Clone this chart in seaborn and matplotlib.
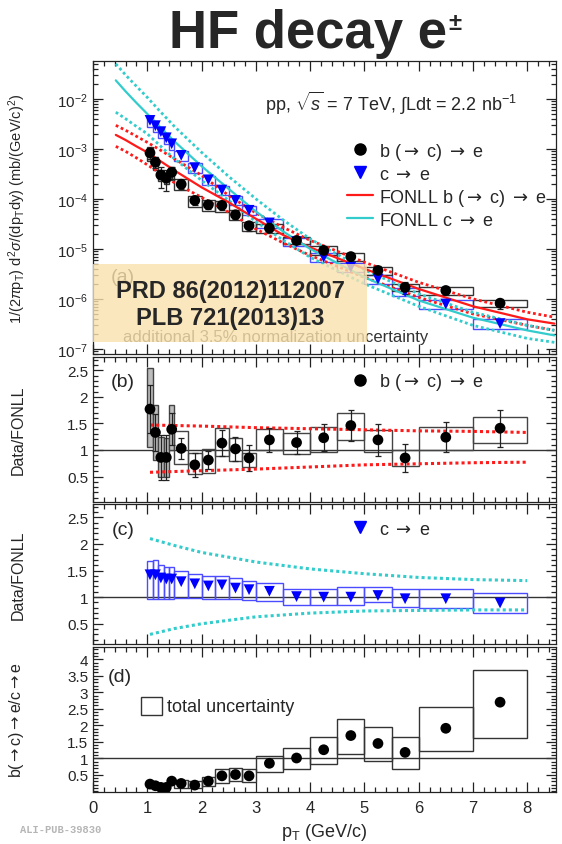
import numpy as np
import pandas as pd
import matplotlib
matplotlib.use("Agg")
import matplotlib.pyplot as plt
from matplotlib.patches import Rectangle
from matplotlib.lines import Line2D
from matplotlib.ticker import MultipleLocator, LogLocator, NullFormatter, FuncFormatter
import seaborn as sns

# ---------------- data ----------------
pt_lo = [1.0, 1.1, 1.2, 1.3, 1.4, 1.5, 1.75, 2.0, 2.25, 2.5, 2.75, 3.0, 3.5, 4.0, 4.5, 5.0, 5.5, 6.0, 7.0]
pt_hi = [1.1, 1.2, 1.3, 1.4, 1.5, 1.75, 2.0, 2.25, 2.5, 2.75, 3.0, 3.5, 4.0, 4.5, 5.0, 5.5, 6.0, 7.0, 8.0]
pt_c = [1.05, 1.15, 1.25, 1.35, 1.45, 1.625, 1.875, 2.125, 2.375, 2.625, 2.875,
        3.25, 3.75, 4.25, 4.75, 5.25, 5.75, 6.5, 7.5]

# panel (a): cross sections (mb/(GeV/c)^2)
b_xsec = [8.3e-4, 5.4e-4, 3.0e-4, 2.6e-4, 3.4e-4, 1.96e-4, 9.3e-5, 7.6e-5, 7.4e-5, 4.8e-5,
          2.9e-5, 2.6e-5, 1.47e-5, 9.3e-6, 7.0e-6, 3.7e-6, 1.7e-6, 1.47e-6, 8.2e-7]
b_stat_rel = [0.25, 0.25, 0.45, 0.45, 0.25, 0.18, 0.2, 0.18, 0.18, 0.18, 0.2, 0.15, 0.15,
              0.17, 0.18, 0.2, 0.25, 0.2, 0.22]
b_sys_rel = [0.3, 0.3, 0.25, 0.25, 0.3, 0.25, 0.25, 0.25, 0.25, 0.22, 0.2, 0.22, 0.15,
             0.2, 0.2, 0.18, 0.17, 0.18, 0.18]
c_xsec = [3.7e-3, 2.9e-3, 2.2e-3, 1.66e-3, 1.26e-3, 7.4e-4, 4.2e-4, 2.4e-4, 1.5e-4, 9.3e-5,
          5.9e-5, 3.3e-5, 1.4e-5, 6.8e-6, 4.3e-6, 2.5e-6, 1.4e-6, 7.9e-7, 3.2e-7]
c_sys_rel = [0.25, 0.25, 0.25, 0.25, 0.25, 0.22, 0.22, 0.22, 0.22, 0.2, 0.2, 0.2, 0.2,
             0.2, 0.2, 0.2, 0.2, 0.2, 0.22]

# FONLL curves, panel (a)
fonll_x = [0.42, 0.6, 0.8, 1.0, 1.25, 1.5, 2.0, 2.5, 3.0, 3.5, 4.0, 5.0, 6.0, 7.0, 8.0, 8.5]
fonll_b = [1.9e-3, 1.5e-3, 1.12e-3, 8.5e-4, 5.6e-4, 3.7e-4, 1.7e-4, 8.5e-5, 4.0e-5, 1.9e-5,
           1.07e-5, 4.0e-6, 1.58e-6, 7.1e-7, 3.9e-7, 3.2e-7]
fonll_b_up = [2.95e-3, 2.35e-3, 1.78e-3, 1.35e-3, 9.3e-4, 6.3e-4, 2.95e-4, 1.17e-4, 5.2e-5,
              2.7e-5, 1.48e-5, 5.4e-6, 2.14e-6, 1.0e-6, 5.4e-7, 4.3e-7]
fonll_b_lo = [1.12e-3, 8.9e-4, 6.6e-4, 4.8e-4, 3.2e-4, 2.1e-4, 1.07e-4, 5.4e-5, 2.5e-5,
              1.32e-5, 7.4e-6, 2.7e-6, 1.07e-6, 5.0e-7, 2.95e-7, 2.35e-7]
fonll_c = [2.34e-2, 1.41e-2, 8.3e-3, 5.0e-3, 2.63e-3, 1.41e-3, 4.5e-4, 1.58e-4, 5.6e-5,
           2.24e-5, 1.0e-5, 2.7e-6, 9.3e-7, 4.2e-7, 2.34e-7, 1.86e-7]
fonll_c_up = [5.0e-2, 3.0e-2, 1.78e-2, 1.07e-2, 5.4e-3, 2.8e-3, 8.5e-4, 2.8e-4, 1.0e-4,
              3.8e-5, 1.58e-5, 3.8e-6, 1.26e-6, 5.4e-7, 2.95e-7, 2.34e-7]
fonll_c_lo = [5.4e-3, 4.0e-3, 2.8e-3, 2.0e-3, 1.12e-3, 6.3e-4, 2.34e-4, 9.3e-5, 3.5e-5,
              1.5e-5, 6.8e-6, 2.0e-6, 7.1e-7, 2.95e-7, 1.62e-7, 1.35e-7]

# panel (b): b(->c)->e / FONLL
b_ratio = [1.77, 1.33, 0.86, 0.86, 1.39, 1.03, 0.72, 0.81, 1.13, 1.02, 0.85, 1.19, 1.14,
           1.23, 1.46, 1.19, 0.85, 1.24, 1.41]
b_ratio_stat = [0.45, 0.35, 0.43, 0.42, 0.3, 0.2, 0.22, 0.17, 0.24, 0.23, 0.25, 0.22, 0.22,
                0.25, 0.29, 0.3, 0.27, 0.28, 0.35]
b_box_lo = [1.05, 0.81, 0.5, 0.5, 1.0, 0.74, 0.54, 0.57, 0.88, 0.79, 0.68, 1.0, 0.93, 0.97,
            1.19, 0.96, 0.69, 1.0, 1.14]
b_box_hi = [2.54, 1.85, 1.25, 1.22, 1.85, 1.35, 0.94, 1.02, 1.41, 1.22, 0.94, 1.39, 1.32,
            1.43, 1.69, 1.38, 1.0, 1.44, 1.63]
band_b_x = [1.05, 2.0, 3.0, 4.0, 5.0, 6.0, 7.0, 8.0]
band_b_up = [1.47, 1.45, 1.42, 1.40, 1.38, 1.36, 1.35, 1.33]
band_b_lo = [0.58, 0.61, 0.64, 0.68, 0.72, 0.74, 0.76, 0.77]

# panel (c): c->e / FONLL
c_ratio = [1.42, 1.42, 1.36, 1.34, 1.34, 1.29, 1.25, 1.21, 1.23, 1.17, 1.14, 1.11, 1.01,
           1.0, 1.0, 1.03, 0.97, 0.97, 0.89]
c_box_lo = [0.97, 0.97, 0.97, 0.97, 0.97, 0.98, 0.98, 0.97, 0.97, 0.97, 0.94, 0.92, 0.86,
            0.86, 0.86, 0.9, 0.81, 0.79, 0.7]
c_box_hi = [1.67, 1.69, 1.6, 1.57, 1.57, 1.5, 1.44, 1.4, 1.4, 1.36, 1.31, 1.27, 1.16, 1.16,
            1.19, 1.19, 1.15, 1.15, 1.07]
band_c_x = [1.05, 1.5, 2.0, 3.0, 4.0, 5.0, 6.0, 7.0, 8.0]
band_c_up = [2.1, 1.97, 1.84, 1.66, 1.53, 1.44, 1.37, 1.33, 1.31]
band_c_lo = [0.3, 0.41, 0.5, 0.63, 0.7, 0.74, 0.75, 0.76, 0.76]

# panel (d): b(->c)->e / c->e
d_ratio = [0.22, 0.17, 0.12, 0.12, 0.31, 0.24, 0.19, 0.31, 0.47, 0.51, 0.47, 0.85, 1.01,
           1.26, 1.69, 1.45, 1.18, 1.91, 2.7]
d_box_lo = [0.17, 0.12, 0.07, 0.07, 0.25, 0.09, 0.09, 0.15, 0.26, 0.3, 0.27, 0.58, 0.68,
            0.83, 1.13, 0.93, 0.68, 1.21, 1.62]
d_box_hi = [0.27, 0.22, 0.17, 0.17, 0.37, 0.34, 0.3, 0.45, 0.68, 0.7, 0.68, 1.08, 1.31,
            1.64, 2.19, 1.96, 1.66, 2.55, 3.66]

# ---------------- style ----------------
sns.set_style("ticks")
plt.rcParams['font.family'] = ['Liberation Sans', 'DejaVu Sans']
plt.rcParams['mathtext.fontset'] = 'custom'
plt.rcParams['mathtext.rm'] = 'Liberation Sans'
plt.rcParams['mathtext.it'] = 'Liberation Sans:italic'
plt.rcParams['mathtext.bf'] = 'Liberation Sans:bold'
plt.rcParams['mathtext.sf'] = 'DejaVu Sans'

ARW = r"$\mathsf{\rightarrow}$"
RED = '#FF1A1A'
CYAN = '#33CCCC'
BLUE = '#0000FF'
BOXBLUE = '#4B4BFF'
DOT = (0, (1.0, 1.0))
fmt_g = FuncFormatter(lambda v, p: f"{v:g}")

fig = plt.figure(figsize=(5.62, 8.45), dpi=100)
L, W = 0.1655, 0.8238
ax_a = fig.add_axes([L, 0.5799, W, 0.3467])
ax_b = fig.add_axes([L, 0.4047, W, 0.1716])
ax_c = fig.add_axes([L, 0.2367, W, 0.1657])
ax_d = fig.add_axes([L, 0.0615, W, 0.1716])


def style_axis(ax):
    ax.set_xlim(0, 8.53)
    ax.xaxis.set_major_locator(MultipleLocator(1))
    ax.xaxis.set_minor_locator(MultipleLocator(0.2))
    ax.tick_params(which='both', direction='in', top=True, right=True, width=0.9,
                   color='#222222')
    ax.tick_params(which='major', length=7, labelsize=11)
    ax.tick_params(which='minor', length=3.5)
    for s in ax.spines.values():
        s.set_linewidth(0.9)
        s.set_color('#222222')


def add_boxes(ax, lo, hi, ec, fc='none', lw=1.0, z=2, n_fill=0, fill_c='#BDBDBD'):
    for i, (x0, x1, y0, y1) in enumerate(zip(pt_lo, pt_hi, lo, hi)):
        face = fill_c if i < n_fill else fc
        ax.add_patch(Rectangle((x0, y0), x1 - x0, y1 - y0, facecolor=face,
                               edgecolor=ec, lw=lw, zorder=z))


def ratio_yaxis(ax):
    ax.yaxis.set_major_locator(MultipleLocator(0.5))
    ax.yaxis.set_minor_locator(MultipleLocator(0.1))
    ax.yaxis.set_major_formatter(fmt_g)
    ax.tick_params(axis='y', labelsize=11)


# ---------------- panel (a) ----------------
ax = ax_a
ax.set_yscale('log')
style_axis(ax)
ax.set_ylim(7.9e-8, 5.7e-2)

b_lo = [v * (1 - s) for v, s in zip(b_xsec, b_sys_rel)]
b_hi = [v * (1 + s) for v, s in zip(b_xsec, b_sys_rel)]
c_lo = [v * (1 - s) for v, s in zip(c_xsec, c_sys_rel)]
c_hi = [v * (1 + s) for v, s in zip(c_xsec, c_sys_rel)]
add_boxes(ax, c_lo, c_hi, BOXBLUE, z=2)
add_boxes(ax, b_lo, b_hi, '#333333', z=2, n_fill=5)

for ys, col in [(fonll_b_up, RED), (fonll_b_lo, RED), (fonll_c_up, CYAN), (fonll_c_lo, CYAN)]:
    sns.lineplot(x=fonll_x, y=ys, ax=ax, color=col, lw=2.0, linestyle=DOT,
                 estimator=None, sort=False, legend=False, zorder=3)
sns.lineplot(x=fonll_x, y=fonll_b, ax=ax, color=RED, lw=1.6, estimator=None,
             sort=False, legend=False, zorder=3)
sns.lineplot(x=fonll_x, y=fonll_c, ax=ax, color=CYAN, lw=1.6, estimator=None,
             sort=False, legend=False, zorder=3)

b_err = [v * s for v, s in zip(b_xsec, b_stat_rel)]
ax.errorbar(pt_c, b_xsec, yerr=b_err, fmt='none', ecolor='#222222', elinewidth=0.9,
            capsize=2, capthick=0.9, zorder=4)
sns.scatterplot(x=pt_c, y=c_xsec, ax=ax, marker='v', color=BLUE, s=60,
                edgecolor='none', legend=False, zorder=5)
sns.scatterplot(x=pt_c, y=b_xsec, ax=ax, marker='o', color='black', s=60,
                edgecolor='none', legend=False, zorder=6)

ax.yaxis.set_major_locator(LogLocator(base=10, numticks=20))
ax.yaxis.set_minor_locator(LogLocator(base=10, subs=np.arange(2, 10), numticks=100))
ax.yaxis.set_minor_formatter(NullFormatter())
ax.tick_params(axis='x', labelbottom=False)
ax.tick_params(axis='y', labelsize=11)
ax.set_xlabel('')
ax.set_ylabel(r"1/(2$\pi$p$_{\rm T}$) d$^{2}\sigma$/(dp$_{\rm T}$dy) (mb/(GeV/c)$^{2}$)",
              fontsize=10.5)
ax.yaxis.set_label_coords(-0.14, 0.5)

ax.text(0.371, 0.86, r"pp, $\sqrt{s}$ = 7 TeV, $\int$Ldt = 2.2 nb$^{-1}$",
        transform=ax.transAxes, fontsize=13, ha='left', va='center')

handles = [Line2D([], [], marker='o', color='black', ls='none', ms=8),
           Line2D([], [], marker='v', color=BLUE, ls='none', ms=8),
           Line2D([], [], color=RED, lw=1.6),
           Line2D([], [], color=CYAN, lw=1.6)]
labels = [f"b ({ARW} c) {ARW} e", f"c {ARW} e", f"FONLL b ({ARW} c) {ARW} e",
          f"FONLL c {ARW} e"]
ax.legend(handles, labels, loc='upper left', bbox_to_anchor=(0.5486, 0.728),
          frameon=False, fontsize=13, handlelength=1.45, handletextpad=0.3,
          labelspacing=0.22, borderpad=0, borderaxespad=0)

ax.text(0.065, 0.266, "(a)", transform=ax.transAxes, fontsize=14, ha='center',
        va='center', zorder=7)
ax.text(0.065, 0.058, "additional 3.5% normalization uncertainty", transform=ax.transAxes,
        fontsize=12, ha='left', va='center', color='#333333', zorder=7)
ax.add_patch(Rectangle((0.0, 0.041), 0.592, 0.266, transform=ax.transAxes,
                       facecolor='#FBE2AE', edgecolor='none', alpha=0.8, zorder=8,
                       clip_on=False))
ax.text(0.296, 0.218, "PRD 86(2012)112007", transform=ax.transAxes, fontsize=17,
        fontweight='bold', ha='center', va='center', zorder=9)
ax.text(0.296, 0.123, "PLB 721(2013)13", transform=ax.transAxes, fontsize=17,
        fontweight='bold', ha='center', va='center', zorder=9)

# ---------------- panel (b) ----------------
ax = ax_b
style_axis(ax)
ax.set_ylim(0.02, 2.75)
ax.axhline(1, color='#333333', lw=1.0, zorder=1)
add_boxes(ax, b_box_lo, b_box_hi, '#444444', z=2, n_fill=5)
for ys in (band_b_up, band_b_lo):
    sns.lineplot(x=band_b_x, y=ys, ax=ax, color=RED, lw=2.2, linestyle=DOT,
                 estimator=None, sort=False, legend=False, zorder=3)
ax.errorbar(pt_c, b_ratio, yerr=b_ratio_stat, fmt='none', ecolor='#222222',
            elinewidth=0.9, capsize=2, capthick=0.9, zorder=4)
sns.scatterplot(x=pt_c, y=b_ratio, ax=ax, marker='o', color='black', s=60,
                edgecolor='none', legend=False, zorder=6)
ratio_yaxis(ax)
ax.tick_params(axis='x', labelbottom=False)
ax.set_ylabel("Data/FONLL", fontsize=11.5)
ax.yaxis.set_label_coords(-0.145, 0.5)
ax.text(0.065, 0.828, "(b)", transform=ax.transAxes, fontsize=14, ha='center', va='center')
ax.legend([Line2D([], [], marker='o', color='black', ls='none', ms=8)],
          [f"b ({ARW} c) {ARW} e"], loc='center left', bbox_to_anchor=(0.5486, 0.828),
          frameon=False, fontsize=13, handlelength=1.45, handletextpad=0.3,
          borderpad=0, borderaxespad=0)

# ---------------- panel (c) ----------------
ax = ax_c
style_axis(ax)
ax.set_ylim(0.12, 2.75)
ax.axhline(1, color='#333333', lw=1.0, zorder=1)
add_boxes(ax, c_box_lo, c_box_hi, BOXBLUE, z=2)
for ys in (band_c_up, band_c_lo):
    sns.lineplot(x=band_c_x, y=ys, ax=ax, color=CYAN, lw=2.2, linestyle=DOT,
                 estimator=None, sort=False, legend=False, zorder=3)
sns.scatterplot(x=pt_c, y=c_ratio, ax=ax, marker='v', color=BLUE, s=60,
                edgecolor='none', legend=False, zorder=6)
ratio_yaxis(ax)
ax.tick_params(axis='x', labelbottom=False)
ax.set_ylabel("Data/FONLL", fontsize=11.5)
ax.yaxis.set_label_coords(-0.145, 0.5)
ax.text(0.065, 0.821, "(c)", transform=ax.transAxes, fontsize=14, ha='center', va='center')
ax.legend([Line2D([], [], marker='v', color=BLUE, ls='none', ms=8)],
          [f"c {ARW} e"], loc='center left', bbox_to_anchor=(0.5486, 0.821),
          frameon=False, fontsize=13, handlelength=1.45, handletextpad=0.3,
          borderpad=0, borderaxespad=0)

# ---------------- panel (d) ----------------
ax = ax_d
style_axis(ax)
ax.set_ylim(-0.02, 4.37)
ax.axhline(1, color='#333333', lw=1.0, zorder=1)
add_boxes(ax, d_box_lo, d_box_hi, '#333333', z=2)
sns.scatterplot(x=pt_c, y=d_ratio, ax=ax, marker='o', color='black', s=60,
                edgecolor='none', legend=False, zorder=6)
ratio_yaxis(ax)
ax.set_yticks([0.5, 1, 1.5, 2, 2.5, 3, 3.5, 4])
ax.tick_params(axis='x', labelsize=12, pad=6)
ax.set_ylabel(f"b({ARW}c){ARW}e/c{ARW}e", fontsize=11.5)
ax.yaxis.set_label_coords(-0.145, 0.5)
ax.set_xlabel(r"p$_{\rm T}$ (GeV/c)", fontsize=13)
ax.text(0.058, 0.8, "(d)", transform=ax.transAxes, fontsize=14, ha='center', va='center')
ax.add_patch(Rectangle((0.1037, 0.531), 0.0454, 0.124, transform=ax.transAxes,
                       facecolor='white', edgecolor='#333333', lw=1.0))
ax.text(0.16, 0.593, "total uncertainty", transform=ax.transAxes, fontsize=13,
        ha='left', va='center')

# ---------------- figure texts ----------------
title = fig.text(0.548, 0.943, "HF decay e", fontsize=38, fontweight='bold',
                 ha='center', va='baseline')
fig.canvas.draw()
bb = title.get_window_extent(renderer=fig.canvas.get_renderer())
fig.text(bb.x1 / fig.bbox.width + 0.002, 0.943 + 0.0215, u"\u00b1", fontsize=17,
         fontweight='bold', ha='left', va='baseline')
fig.text(0.036, 0.012, "ALI-PUB-39830", fontsize=7.5, fontweight='bold',
         family='Liberation Mono', color='#B5B5B5', ha='left', va='bottom')

fig.savefig("out.png", dpi=100)
